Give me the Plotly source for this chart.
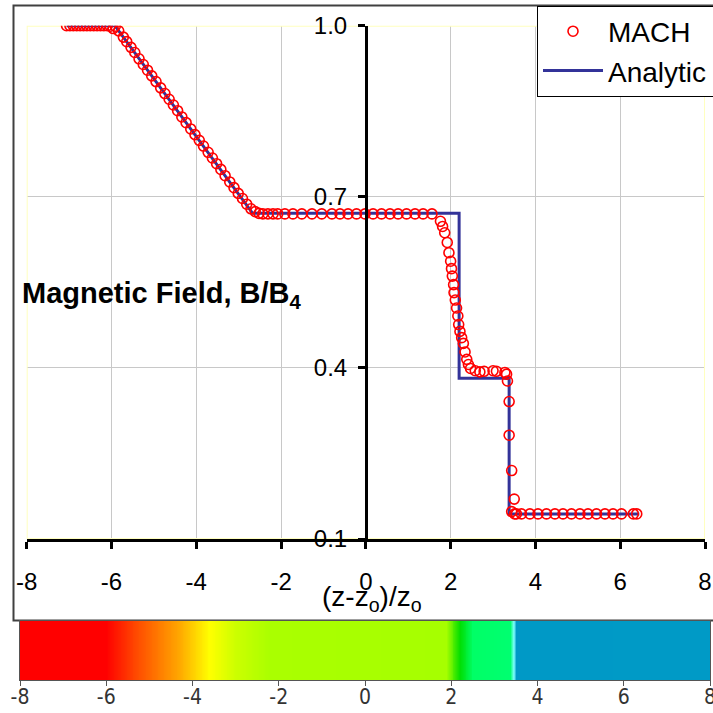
import numpy as np
import plotly.graph_objects as go

# ---------------- data ----------------
mach_x = [-7.06, -6.98, -6.90, -6.82, -6.74, -6.66, -6.58, -6.50, -6.42, -6.34, -6.26, -6.18, -6.10, -6.03,
          -5.96, -5.91, -5.83, -5.72, -5.64, -5.54, -5.45, -5.35, -5.25, -5.15, -5.05, -4.95, -4.84, -4.74,
          -4.64, -4.54, -4.44, -4.34, -4.24, -4.13, -4.03, -3.93, -3.83, -3.72, -3.62, -3.52, -3.42, -3.32,
          -3.21, -3.11, -3.01, -2.91, -2.81, -2.71, -2.61, -2.52,
          -2.43, -2.31, -2.19, -2.08, -1.91, -1.72, -1.51, -1.27, -1.04, -0.80, -0.61, -0.42, -0.22, -0.02,
          0.17, 0.37, 0.57, 0.76, 0.96, 1.16, 1.35, 1.56,
          1.76, 1.81, 1.86, 1.92, 1.96, 2.00, 2.02, 2.04, 2.07, 2.08, 2.11, 2.14, 2.17, 2.19, 2.22, 2.26,
          2.30, 2.34, 2.38, 2.42, 2.47, 2.58, 2.69, 2.79, 3.00, 3.08, 3.28, 3.32, 3.34, 3.38, 3.38, 3.44,
          3.50, 3.44, 3.51, 3.55,
          3.67, 3.87, 4.06, 4.26, 4.46, 4.65, 4.85, 5.05, 5.24, 5.44, 5.64, 5.83, 6.03, 6.31, 6.39]
mach_y = [1.000, 1.000, 1.000, 1.000, 1.000, 1.000, 1.000, 1.000, 1.000, 1.000, 1.000, 1.000, 1.000, 0.999,
          0.995, 0.999, 0.991, 0.980, 0.972, 0.962, 0.953, 0.942, 0.932, 0.922, 0.912, 0.902, 0.891, 0.881,
          0.871, 0.861, 0.851, 0.840, 0.830, 0.819, 0.809, 0.799, 0.789, 0.778, 0.768, 0.758, 0.748, 0.737,
          0.726, 0.716, 0.706, 0.697, 0.687, 0.679, 0.674, 0.671,
          0.670, 0.670, 0.670, 0.670, 0.670, 0.670, 0.670, 0.670, 0.670, 0.670, 0.670, 0.670, 0.670, 0.670,
          0.670, 0.670, 0.670, 0.670, 0.670, 0.670, 0.670, 0.670,
          0.657, 0.648, 0.637, 0.620, 0.602, 0.587, 0.574, 0.561, 0.546, 0.532, 0.519, 0.505, 0.491, 0.476,
          0.464, 0.453, 0.443, 0.428, 0.415, 0.406, 0.399, 0.395, 0.393, 0.394, 0.395, 0.394, 0.392, 0.389,
          0.377, 0.341, 0.282, 0.220, 0.170, 0.148, 0.144, 0.144,
          0.144, 0.144, 0.144, 0.144, 0.144, 0.144, 0.144, 0.144, 0.144, 0.144, 0.144, 0.144, 0.144, 0.144, 0.144]

ana_x = [-7.06, -5.92, -2.67, 2.20, 2.20, 3.38, 3.38, 6.45]
ana_y = [1.000, 1.000, 0.671, 0.671, 0.382, 0.382, 0.144, 0.144]

x_ticks = [-8, -6, -4, -2, 0, 2, 4, 6, 8]
x_ticklabels = ["-8", "-6", "-4", "-2", "0", "2", "4", "6", "8"]
y_ticks = [0.1, 0.4, 0.7, 1.0]
y_ticklabels = ["0.1", "0.4", "0.7", "1.0"]

# colour strip below the chart: stop positions (in z units) and colours
cbar_stop_x = [-8.0, -6.0, -5.3, -4.3, -3.6, -3.0, -2.2, 1.9, 2.2, 2.5, 3.38, 3.45, 3.5, 8.0]
cbar_colors = ["#ff0000", "#ff0000", "#ff4a00", "#ffa800", "#ffff00", "#ccff00", "#aaff00",
               "#a6ff00", "#00dd00", "#00ff66", "#00ff70", "#80ffff", "#0099c6", "#009ac6"]

# ---------------- figure ----------------
W = H = 713


def fx(p):
    return p / W


def fy(p):
    return 1 - p / H


FONT = "Arial, Liberation Sans, sans-serif"
NARROW = "Liberation Sans Narrow, Arial Narrow, DejaVu Sans Condensed, sans-serif"

fig = go.Figure()
fig.add_trace(go.Scatter(x=ana_x, y=ana_y, mode="lines", name="Analytic\u00a0\u00a0\u00a0",
                         line=dict(color="#333399", width=3), legendrank=2, legendgroup="b"))
fig.add_trace(go.Scatter(x=mach_x, y=mach_y, mode="markers", name="MACH",
                         marker=dict(symbol="circle-open", size=10, color="#ff0000", line=dict(width=1.6)),
                         legendrank=1, legendgroup="a"))

cb_x = np.linspace(-8, 8, 801)
cscale = [[(v + 8) / 16, c] for v, c in zip(cbar_stop_x, cbar_colors)]
fig.add_trace(go.Heatmap(x=cb_x, y=[0], z=[cb_x], xaxis="x2", yaxis="y2", colorscale=cscale,
                         zmin=-8, zmax=8, showscale=False, hoverinfo="skip", showlegend=False))

fig.update_layout(
    width=W, height=H, margin=dict(l=0, r=0, t=0, b=0, autoexpand=False),
    paper_bgcolor="white", plot_bgcolor="white",
    font=dict(family=FONT, color="black"),
    xaxis=dict(domain=[fx(26.7), fx(705)], range=[-8, 8], anchor="y", automargin=False,
               tickvals=x_ticks, ticktext=x_ticklabels, ticks="outside", ticklen=7, tickwidth=3,
               tickcolor="black", showline=True, linewidth=3, linecolor="black",
               showgrid=True, gridcolor="#c8c8c8", gridwidth=1, zeroline=False,
               tickfont=dict(family=FONT, size=24, color="black"), ticklabelstandoff=12,
               ticklabeloverflow="allow"),
    yaxis=dict(domain=[fy(539), fy(25.7)], range=[0.1, 1.0], anchor="free", position=fx(366),
               automargin=False,
               tickvals=y_ticks, ticktext=y_ticklabels, ticks="outside", ticklen=7, tickwidth=3,
               tickcolor="black", showline=True, linewidth=3, linecolor="black",
               showgrid=True, gridcolor="#c8c8c8", gridwidth=1, zeroline=False,
               tickfont=dict(family=FONT, size=24, color="black"), ticklabelstandoff=6),
    xaxis2=dict(domain=[fx(20), fx(710)], range=[-8, 8], anchor="y2", automargin=False,
                tickvals=x_ticks, ticktext=x_ticklabels, ticks="outside", ticklen=5, tickwidth=1,
                tickcolor="#555555", showline=True, mirror=True, linewidth=1, linecolor="#555555",
                showgrid=False, zeroline=False, ticklabelstandoff=-7, ticklabeloverflow="allow",
                tickfont=dict(family=NARROW, size=21, color="#333333")),
    yaxis2=dict(domain=[fy(680), fy(621)], range=[-0.5, 0.5], anchor="x2", automargin=False,
                showticklabels=False, ticks="", showline=True, mirror=True, linewidth=1,
                linecolor="#555555", showgrid=False, zeroline=False),
    legend=dict(x=fx(537), y=fy(5.5), xanchor="left", yanchor="top",
                bordercolor="black", borderwidth=1, bgcolor="white",
                font=dict(family=FONT, size=28, color="black"),
                traceorder="grouped", tracegroupgap=0, itemwidth=60),
    showlegend=True,
)

# plot-area border (pale yellow) and outer chart frame
fig.add_shape(type="rect", xref="x", yref="y", x0=-8, x1=8, y0=0.1, y1=1.0,
              line=dict(color="#ffffc0", width=2), layer="between")
fig.add_shape(type="rect", xref="paper", yref="paper", x0=fx(13.5), x1=1.05, y0=fy(620.5), y1=fy(5.5),
              line=dict(color="#404040", width=2), layer="below")

fig.add_annotation(x=fx(372), y=fy(598), xref="paper", yref="paper", showarrow=False,
                   text="(z-z<sub>o</sub>)/z<sub>o</sub>", font=dict(family=FONT, size=28, color="black"),
                   xanchor="center", yanchor="middle")
fig.add_annotation(x=fx(20), y=fy(295), xref="paper", yref="paper", showarrow=False,
                   text="<b>Magnetic Field, B/B<sub>4</sub></b>", font=dict(family=FONT, size=29, color="black"),
                   xanchor="left", yanchor="middle")

fig.write_html("out.html")
